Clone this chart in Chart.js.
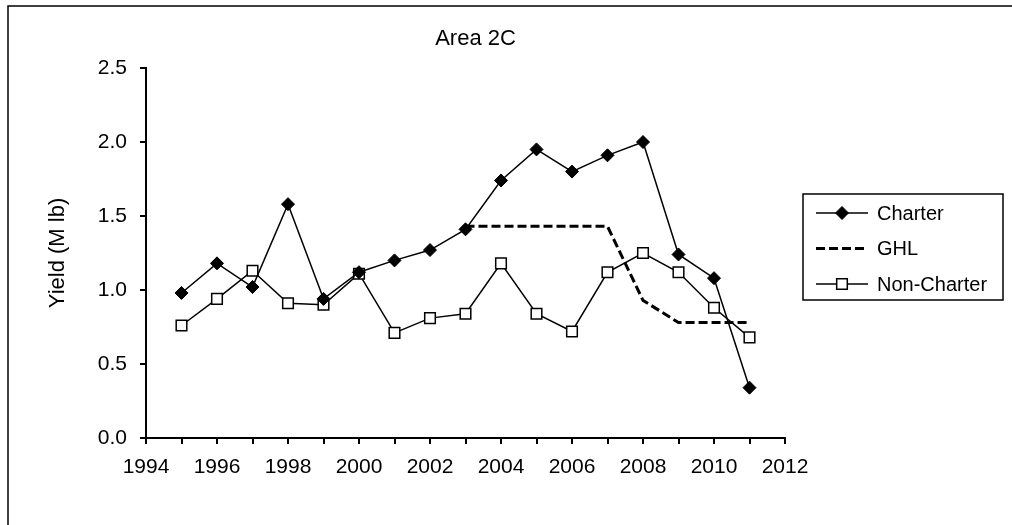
<!DOCTYPE html>
<html>
<head>
<meta charset="utf-8">
<script src="https://cdn.jsdelivr.net/npm/chart.js@4/dist/chart.umd.min.js"></script>
<style>
  html, body { margin: 0; padding: 0; background: #fff; }
  #wrap { position: relative; width: 1012px; height: 525px; overflow: hidden; }
</style>
</head>
<body>
<div id="wrap"><canvas id="chart" width="1012" height="525"></canvas></div>
<script>
const years = [1995, 1996, 1997, 1998, 1999, 2000, 2001, 2002, 2003, 2004, 2005, 2006, 2007, 2008, 2009, 2010, 2011];
const charter = [0.98, 1.18, 1.02, 1.58, 0.94, 1.12, 1.20, 1.27, 1.41, 1.74, 1.95, 1.80, 1.91, 2.00, 1.24, 1.08, 0.34];
const ghl = [null, null, null, null, null, null, null, null, 1.43, 1.43, 1.43, 1.43, 1.43, 0.93, 0.78, 0.78, 0.78];
const nonCharter = [0.76, 0.94, 1.13, 0.91, 0.90, 1.11, 0.71, 0.81, 0.84, 1.18, 0.84, 0.72, 1.12, 1.25, 1.12, 0.88, 0.68];
const chartTitle = 'Area 2C';
const yTitle = 'Yield (M lb)';

const FONT = 'Liberation Sans, Arial, sans-serif';

function toPoints(values) {
  return years.map((x, i) => ({ x: x, y: values[i] }));
}

function drawMarker(ctx, ds, x, y) {
  const r = ds.pointRadius;
  if (!r) return;
  ctx.save();
  ctx.lineWidth = ds.pointBorderWidth;
  ctx.strokeStyle = ds.pointBorderColor;
  ctx.fillStyle = ds.pointBackgroundColor;
  ctx.setLineDash([]);
  ctx.beginPath();
  if (ds.pointStyle === 'rectRot') {
    ctx.moveTo(x, y - r);
    ctx.lineTo(x + r, y);
    ctx.lineTo(x, y + r);
    ctx.lineTo(x - r, y);
    ctx.closePath();
  } else {
    const s = Math.SQRT1_2 * r;
    ctx.rect(x - s, y - s, 2 * s, 2 * s);
  }
  ctx.fill();
  ctx.stroke();
  ctx.restore();
}

// frame, centred title and the boxed legend on the right
const excelBits = {
  id: 'excelBits',
  beforeDraw(chart) {
    const ctx = chart.ctx;
    ctx.save();
    ctx.fillStyle = '#fff';
    ctx.fillRect(0, 0, chart.width, chart.height);
    ctx.strokeStyle = '#000';
    ctx.lineWidth = 1.5;
    ctx.strokeRect(8, 6, 1100, 600);
    ctx.restore();
  },
  afterDraw(chart) {
    const ctx = chart.ctx;
    const area = chart.chartArea;
    ctx.save();
    ctx.fillStyle = '#000';
    ctx.font = '22px ' + FONT;
    ctx.textAlign = 'center';
    ctx.textBaseline = 'middle';
    ctx.fillText(chartTitle, area.left + area.width / 2 + 10, 39);

    const box = { left: area.right + 18, top: 194, width: 200, height: 106 };
    ctx.strokeStyle = '#000';
    ctx.lineWidth = 1.5;
    ctx.strokeRect(box.left, box.top, box.width, box.height);

    ctx.font = '20px ' + FONT;
    ctx.textAlign = 'left';
    chart.data.datasets.forEach((ds, i) => {
      const y = box.top + 19 + i * 35.5;
      const x0 = box.left + 13, x1 = box.left + 65;
      ctx.save();
      ctx.strokeStyle = ds.borderColor;
      ctx.lineWidth = ds.borderWidth;
      ctx.setLineDash(ds.borderDash || []);
      ctx.beginPath();
      ctx.moveTo(x0, y);
      ctx.lineTo(x1, y);
      ctx.stroke();
      ctx.restore();
      drawMarker(ctx, ds, (x0 + x1) / 2, y);
      ctx.fillStyle = '#000';
      ctx.fillText(ds.label, box.left + 74, y + 1);
    });
    ctx.restore();
  }
};

new Chart(document.getElementById('chart'), {
  type: 'line',
  data: {
    datasets: [
      {
        label: 'Charter',
        data: toPoints(charter),
        borderColor: '#000',
        borderWidth: 1.5,
        pointStyle: 'rectRot',
        pointRadius: 6.5,
        pointBackgroundColor: '#000',
        pointBorderColor: '#000',
        pointBorderWidth: 1,
        tension: 0
      },
      {
        label: 'GHL',
        data: toPoints(ghl),
        borderColor: '#000',
        borderWidth: 3,
        borderDash: [9, 4],
        pointRadius: 0,
        spanGaps: false,
        tension: 0
      },
      {
        label: 'Non-Charter',
        data: toPoints(nonCharter),
        borderColor: '#000',
        borderWidth: 1.5,
        pointStyle: 'rect',
        pointRadius: 7.5,
        pointBackgroundColor: '#fff',
        pointBorderColor: '#000',
        pointBorderWidth: 1.5,
        tension: 0
      }
    ]
  },
  options: {
    responsive: false,
    animation: false,
    devicePixelRatio: 1,
    layout: { padding: { left: 40, right: 227, top: 68, bottom: 40 } },
    plugins: {
      legend: { display: false },
      title: { display: false },
      tooltip: { enabled: false }
    },
    scales: {
      x: {
        type: 'linear',
        min: 1994,
        max: 2012,
        afterFit: (scale) => { scale.height = 47; },
        border: { display: true, color: '#000', width: 2 },
        grid: { drawOnChartArea: false, drawTicks: true, tickLength: 6, tickColor: '#000', lineWidth: 2 },
        ticks: {
          stepSize: 1,
          autoSkip: false,
          maxRotation: 0,
          padding: 11,
          color: '#000',
          font: { family: FONT, size: 21 },
          callback: (v) => (v % 2 === 0 ? String(v) : '')
        }
      },
      y: {
        min: 0,
        max: 2.5,
        afterFit: (scale) => { scale.width = 106; },
        border: { display: true, color: '#000', width: 2 },
        grid: { drawOnChartArea: false, drawTicks: true, tickLength: 6, tickColor: '#000', lineWidth: 2 },
        title: {
          display: true,
          text: yTitle,
          color: '#000',
          padding: { top: 5, bottom: 0 },
          font: { family: FONT, size: 22 }
        },
        ticks: {
          stepSize: 0.5,
          padding: 13,
          color: '#000',
          font: { family: FONT, size: 21 },
          callback: (v) => v.toFixed(1)
        }
      }
    }
  },
  plugins: [excelBits]
});
</script>
</body>
</html>
